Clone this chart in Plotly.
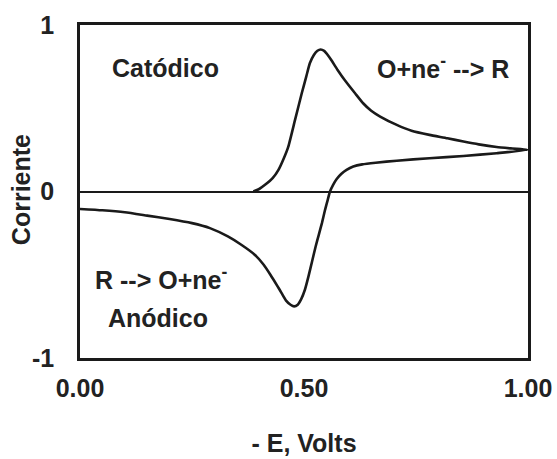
import plotly.graph_objects as go

# Forward (cathodic) scan
fwd_x = [0.387, 0.40, 0.413, 0.43, 0.443, 0.455, 0.465, 0.48, 0.495, 0.505, 0.513, 0.522, 0.53, 0.537,
         0.545, 0.553, 0.562, 0.575, 0.592, 0.614, 0.632, 0.65, 0.67, 0.707, 0.74, 0.78, 0.82, 0.856,
         0.89, 0.93, 0.965, 1.0]
fwd_y = [0.0, 0.015, 0.04, 0.08, 0.13, 0.20, 0.27, 0.43, 0.59, 0.69, 0.77, 0.82, 0.845, 0.853,
         0.845, 0.82, 0.785, 0.73, 0.665, 0.59, 0.53, 0.485, 0.45, 0.40, 0.365, 0.34, 0.32, 0.30,
         0.283, 0.267, 0.258, 0.25]

# Reverse (anodic) scan
rev_x = [1.0, 0.93, 0.856, 0.78, 0.707, 0.66, 0.63, 0.61, 0.595, 0.583, 0.573, 0.565, 0.558,
         0.553, 0.547, 0.54, 0.533, 0.526, 0.518, 0.51, 0.502, 0.494, 0.486, 0.478, 0.47, 0.46,
         0.45, 0.44, 0.425, 0.41, 0.39, 0.36, 0.33, 0.29, 0.25, 0.20, 0.15, 0.10, 0.05, 0.0]
rev_y = [0.25, 0.23, 0.213, 0.20, 0.185, 0.173, 0.163, 0.15, 0.13, 0.105, 0.075, 0.04, 0.0,
         -0.05, -0.11, -0.19, -0.26, -0.33, -0.42, -0.51, -0.59, -0.645, -0.68, -0.69, -0.68, -0.655,
         -0.61, -0.565, -0.50, -0.44, -0.38, -0.32, -0.27, -0.22, -0.19, -0.165, -0.145, -0.125, -0.113, -0.105]

x_ticks = [0.0, 0.5, 1.0]
x_tick_labels = ["0.00", "0.50", "1.00"]
y_ticks = [-1, 0, 1]
y_tick_labels = ["-1", "0", "1"]

FONT = "Liberation Sans, Arial, sans-serif"
FS = 25

fig = go.Figure()
fig.add_trace(go.Scatter(x=fwd_x + rev_x[1:], y=fwd_y + rev_y[1:], mode="lines",
                         line=dict(color="#1a1a1a", width=2.6, shape="spline", smoothing=0.5),
                         showlegend=False, hoverinfo="skip"))

ann_font = dict(family=FONT, size=FS, color="#222222", weight="bold")
annotations = [
    dict(x=0.191, y=0.74, text="Catódico", xanchor="center"),
    dict(x=0.963, y=0.75, text="O+ne<sup>-</sup> --> R", xanchor="right"),
    dict(x=0.03, y=-0.52, text="R --> O+ne<sup>-</sup>", xanchor="left"),
    dict(x=0.058, y=-0.76, text="Anódico", xanchor="left"),
]
for a in annotations:
    fig.add_annotation(xref="x", yref="y", showarrow=False, yanchor="middle",
                       font=ann_font, **a)

tfont = dict(family=FONT, size=FS, color="#222222", weight="bold")

# y-axis title placed as rotated annotation
fig.add_annotation(xref="paper", yref="paper", x=-0.131, y=0.505, text="Corriente",
                   textangle=-90, showarrow=False, xanchor="center", yanchor="middle", font=tfont)

axis_common = dict(showline=True, mirror=True, linecolor="#1a1a1a", linewidth=2.5,
                   showgrid=False, ticks="", tickfont=tfont, automargin=False)
fig.update_xaxes(range=[0, 1], tickvals=x_ticks, ticktext=x_tick_labels, zeroline=False,
                 title=dict(text="- E, Volts", font=tfont, standoff=34),
                 ticklabelstandoff=6, **axis_common)
fig.update_yaxes(range=[-1, 1], tickvals=y_ticks, ticktext=y_tick_labels,
                 zeroline=True, zerolinecolor="#1a1a1a", zerolinewidth=1.6,
                 ticklabelstandoff=18, **axis_common)

fig.update_layout(width=557, height=459, margin=dict(l=80, r=29, t=25, b=101),
                  plot_bgcolor="white", paper_bgcolor="white")

fig.write_html("out.html")
